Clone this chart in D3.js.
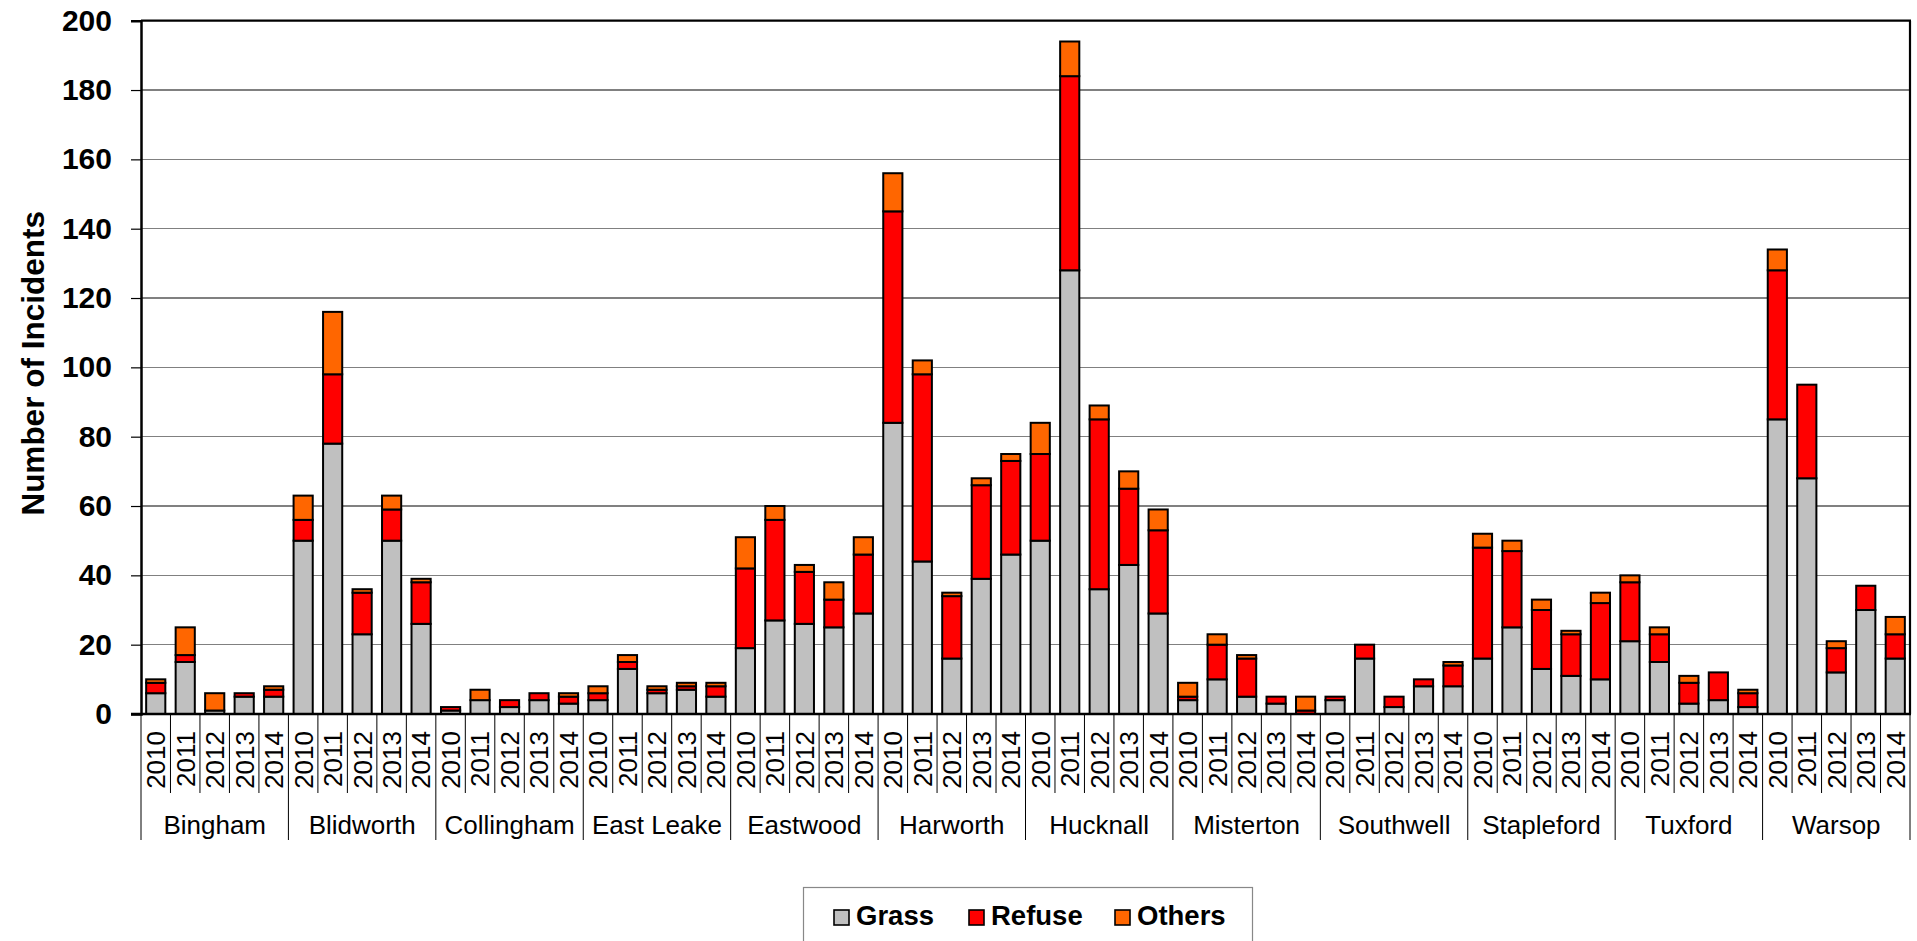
<!DOCTYPE html>
<html>
<head>
<meta charset="utf-8">
<script src="https://cdn.jsdelivr.net/npm/d3@7/dist/d3.min.js"></script>
<style>
  html, body { margin: 0; padding: 0; background: #fff; }
  svg { display: block; }
  text { font-family: "Liberation Sans", Arial, Helvetica, sans-serif; fill: #000; }
</style>
</head>
<body>
<svg id="chart" width="1917" height="941"></svg>
<script>
// ---------- data ----------
const groups = ["Bingham","Blidworth","Collingham","East Leake","Eastwood","Harworth","Hucknall","Misterton","Southwell","Stapleford","Tuxford","Warsop"];
const years = ["2010","2011","2012","2013","2014"];
const seriesNames = ["Grass","Refuse","Others"];
const seriesColors = ["#C0C0C0","#FF0000","#FF6600"];
const yTicks = [0,20,40,60,80,100,120,140,160,180,200];

// values in order: group by group, 2010..2014
const grass = [
  6,15,1,5,5,
  50,78,23,50,26,
  1,4,2,4,3,
  4,13,6,7,5,
  19,27,26,25,29,
  84,44,16,39,46,
  50,128,36,43,29,
  4,10,5,3,0,
  4,16,2,8,8,
  16,25,13,11,10,
  21,15,3,4,2,
  85,68,12,30,16
];
const refuse = [
  3,2,0,1,2,
  6,20,12,9,12,
  1,0,2,2,2,
  2,2,1,1,3,
  23,29,15,8,17,
  61,54,18,27,27,
  25,56,49,22,24,
  1,10,11,2,1,
  1,4,3,2,6,
  32,22,17,12,22,
  17,8,6,8,4,
  43,27,7,7,7
];
const others = [
  1,8,5,0,1,
  7,18,1,4,1,
  0,3,0,0,1,
  2,2,1,1,1,
  9,4,2,5,5,
  11,4,1,2,2,
  9,10,4,5,6,
  4,3,1,0,4,
  0,0,0,0,1,
  4,3,3,1,3,
  2,2,2,0,1,
  6,0,2,0,5
];

// ---------- layout ----------
const svg = d3.select("#chart");
const plot = { left: 141, right: 1910, top: 20.7, bottom: 714 };

const rows = [];
groups.forEach((g, gi) => years.forEach((yr, yi) => {
  const i = gi * years.length + yi;
  rows.push({ key: g + "|" + yr, group: g, year: yr, Grass: grass[i], Refuse: refuse[i], Others: others[i] });
}));

const x = d3.scaleBand()
  .domain(rows.map(d => d.key))
  .range([plot.left, plot.right])
  .paddingInner(0.35)
  .paddingOuter(0.175);

const y = d3.scaleLinear().domain([0, 200]).range([plot.bottom, plot.top]);

// gridlines
svg.append("g")
  .selectAll("line")
  .data(yTicks.filter(t => t > 0 && t < 200))
  .join("line")
  .attr("x1", plot.left).attr("x2", plot.right)
  .attr("y1", d => y(d)).attr("y2", d => y(d))
  .attr("stroke", "#808080").attr("stroke-width", 1.2)
  .attr("shape-rendering", "crispEdges");

// plot border (top & right)
svg.append("line").attr("x1", plot.left).attr("x2", plot.right + 1)
  .attr("y1", plot.top).attr("y2", plot.top)
  .attr("stroke", "#000").attr("stroke-width", 2.2);
svg.append("line").attr("x1", plot.right).attr("x2", plot.right)
  .attr("y1", plot.top).attr("y2", plot.bottom)
  .attr("stroke", "#000").attr("stroke-width", 2.2);

// y axis
const yAxis = d3.axisLeft(y).tickValues(yTicks).tickSize(10).tickPadding(19).tickFormat(d3.format("d"));
const yg = svg.append("g").attr("transform", `translate(${plot.left},0)`).call(yAxis);
yg.select(".domain").attr("stroke", "#000").attr("stroke-width", 2.5);
yg.selectAll(".tick line").attr("stroke", "#000").attr("stroke-width", 1.2);
yg.selectAll(".tick text")
  .attr("font-family", "'Liberation Sans', Arial, sans-serif")
  .attr("font-size", 30).attr("font-weight", "bold").attr("fill", "#000");

// y title
svg.append("text")
  .attr("transform", `translate(44,${(plot.top + plot.bottom) / 2 - 4}) rotate(-90)`)
  .attr("text-anchor", "middle")
  .attr("font-size", 31.5).attr("font-weight", "bold")
  .text("Number of Incidents");

// stacked bars
const stack = d3.stack().keys(seriesNames);
const stacked = stack(rows);
const color = d3.scaleOrdinal().domain(seriesNames).range(seriesColors);

svg.append("g").selectAll("g")
  .data(stacked)
  .join("g")
  .attr("fill", d => color(d.key))
  .selectAll("rect")
  .data(d => d.filter(p => p[1] - p[0] > 0))
  .join("rect")
  .attr("x", d => x(d.data.key))
  .attr("width", x.bandwidth())
  .attr("y", d => y(d[1]))
  .attr("height", d => y(d[0]) - y(d[1]))
  .attr("stroke", "#000")
  .attr("stroke-width", 2);

// x axis line
svg.append("line").attr("x1", plot.left - 10).attr("x2", plot.right + 1)
  .attr("y1", plot.bottom).attr("y2", plot.bottom)
  .attr("stroke", "#000").attr("stroke-width", 2.5);

// category separators
const step = x.step();
const boundaries = rows.map((d, i) => ({ i, pos: x(d.key) + x.bandwidth() / 2 - step / 2 }));
boundaries.push({ i: rows.length, pos: x(rows[rows.length - 1].key) + x.bandwidth() / 2 + step / 2 });
svg.append("g").selectAll("line")
  .data(boundaries)
  .join("line")
  .attr("x1", d => d.pos).attr("x2", d => d.pos)
  .attr("y1", plot.bottom)
  .attr("y2", d => (d.i % years.length === 0) ? 840 : 793)
  .attr("stroke", "#000").attr("stroke-width", 1);

// year labels
svg.append("g").selectAll("text")
  .data(rows)
  .join("text")
  .attr("transform", d => `translate(${x(d.key) + x.bandwidth() / 2},731) rotate(-90)`)
  .attr("text-anchor", "end")
  .attr("dy", "0.36em")
  .attr("font-size", 26)
  .text(d => d.year);

// group labels
svg.append("g").selectAll("text")
  .data(groups)
  .join("text")
  .attr("x", g => {
    const first = x(g + "|" + years[0]);
    const last = x(g + "|" + years[years.length - 1]) + x.bandwidth();
    return (first + last) / 2;
  })
  .attr("y", 834)
  .attr("text-anchor", "middle")
  .attr("font-size", 26)
  .text(g => g);

// legend
const legend = svg.append("g");
legend.append("rect")
  .attr("x", 803.5).attr("y", 887.5).attr("width", 449).attr("height", 80)
  .attr("fill", "#fff").attr("stroke", "#888").attr("stroke-width", 1.2);
const legendX = [834, 969, 1115];
seriesNames.forEach((s, i) => {
  legend.append("rect")
    .attr("x", legendX[i]).attr("y", 910)
    .attr("width", 15).attr("height", 15)
    .attr("fill", seriesColors[i]).attr("stroke", "#000").attr("stroke-width", 1.6);
  legend.append("text")
    .attr("x", legendX[i] + 22).attr("y", 925)
    .attr("font-size", 27.5).attr("font-weight", "bold")
    .text(s);
});
</script>
</body>
</html>
